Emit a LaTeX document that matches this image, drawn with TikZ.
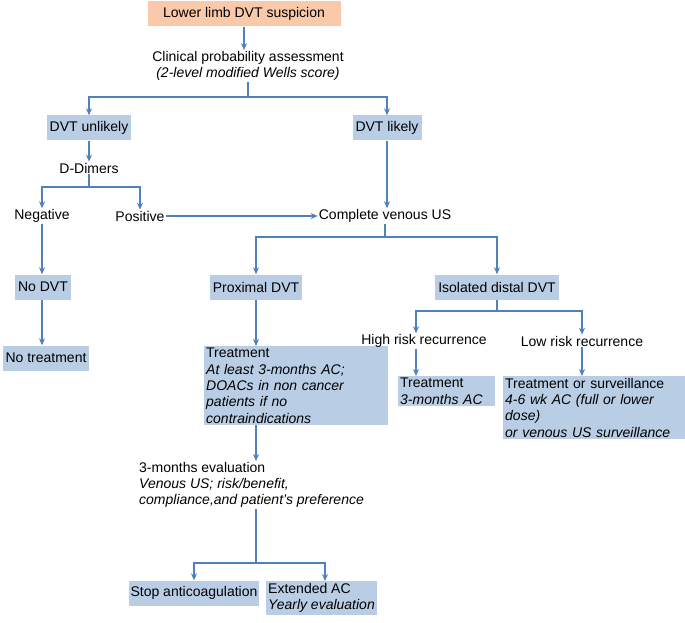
\documentclass[tikz,border=0pt]{standalone}
\usepackage{fontspec}
\setmainfont{Liberation Sans}
\usetikzlibrary{arrows.meta}
\definecolor{bx}{HTML}{B9CDE5}
\definecolor{ln}{HTML}{4F81BD}
\definecolor{og}{HTML}{F9C9A9}
\begin{document}
\begin{tikzpicture}[x=1pt,y=-1pt,font=\fontsize{14}{16.3}\selectfont,
 box/.style={fill=bx,inner sep=3pt,minimum height=25pt},
 txt/.style={inner sep=1pt},
 ar/.style={draw=ln,line width=1.1pt,-{Stealth[length=7pt,width=6pt]}},
 ln/.style={draw=ln,line width=1.1pt}]
\useasboundingbox (0,0) rectangle (685,623);
\node[fill=og,minimum width=193pt,minimum height=25pt] (top) at (244,14) {Lower limb DVT suspicion};
\node[txt,align=center] (cpa) at (248,66) {Clinical probability assessment\\\textit{(2-level modified Wells score)}};
\node[box] (unl) at (89,128) {DVT unlikely};
\node[box] (lik) at (387,128) {DVT likely};
\node[txt] (dd) at (89,168) {D-Dimers};
\node[txt] (neg) at (42,216) {Negative};
\node[txt] (pos) at (140,216) {Positive};
\node[txt] (cvu) at (385,216) {Complete venous US};
\node[box] (nodvt) at (43,287) {No DVT};
\node[box] (prox) at (256,287) {Proximal DVT};
\node[box] (dist) at (497,287) {Isolated distal DVT};
\node[box] (notr) at (46,358) {No treatment};
\node[box,anchor=north west,align=left,text width=180pt,inner sep=2pt] (tr) at (204,346) {Treatment\\\textit{At least 3-months AC;}\\\textit{DOACs in non cancer}\\\textit{patients if no}\\\textit{contraindications}};
\node[txt] (hr) at (424,341) {High risk recurrence};
\node[txt] (lr) at (582,341) {Low risk recurrence};
\node[box,anchor=north west,align=left,text width=93pt,inner sep=2pt] (tr3) at (398,376) {Treatment\\\textit{3-months AC}};
\node[box,anchor=north west,align=left,text width=178pt,inner sep=2pt] (tos) at (503,376) {Treatment or surveillance\\\textit{4-6 wk AC (full or lower dose)}\\\textit{or venous US surveillance}};
\node[txt,anchor=north west,align=left] (ev) at (138,461) {3-months evaluation\\\textit{Venous US; risk/benefit,}\\\textit{compliance,and patient's preference}};
\node[box,inner sep=2pt] (stop) at (194,593) {Stop anticoagulation};
\node[box,anchor=north west,align=left,inner sep=2pt] (ext) at (266,581) {Extended AC\\\textit{Yearly evaluation}};
\draw[ar] (top.south) -- (cpa.north -| top.south);
\coordinate (c1) at (248,97);
\draw[ln] (cpa.south) -- (c1);
\draw[ar] (c1) -| (unl.north);
\draw[ar] (c1) -| (lik.north);
\draw[ar] (unl.south) -- (dd.north);
\coordinate (c2) at (89,187);
\draw[ln] (dd.south) -- (c2);
\draw[ar] (c2) -| (neg.north);
\draw[ar] (c2) -| (pos.north);
\draw[ar] (pos.east) -- (cvu.west);
\draw[ar] (lik.south) -- (cvu.north -| lik.south);
\coordinate (c3) at (385,237);
\draw[ln] (cvu.south) -- (c3);
\draw[ar] (c3) -| (prox.north);
\draw[ar] (c3) -| (dist.north);
\draw[ar] (neg.south) -- (nodvt.north -| neg.south);
\draw[ar] (nodvt.south -| 42,0) -- (notr.north -| 42,0);
\draw[ar] (prox.south) -- (tr.north -| prox.south);
\coordinate (c4) at (497,311);
\draw[ln] (dist.south) -- (c4);
\draw[ar] (c4) -| (hr.north -| 416,0);
\draw[ar] (c4) -| (lr.north);
\draw[ar] (hr.south -| 416,0) -- (tr3.north -| 416,0);
\draw[ar] (lr.south) -- (tos.north -| lr.south);
\draw[ar] (tr.south -| 256,0) -- (ev.north -| 256,0);
\coordinate (c5) at (256,563);
\draw[ln] (ev.south -| 256,0) -- (c5);
\draw[ar] (c5) -| (stop.north);
\draw[ar] (c5) -| (ext.north -| 325,0);
\end{tikzpicture}
\end{document}
